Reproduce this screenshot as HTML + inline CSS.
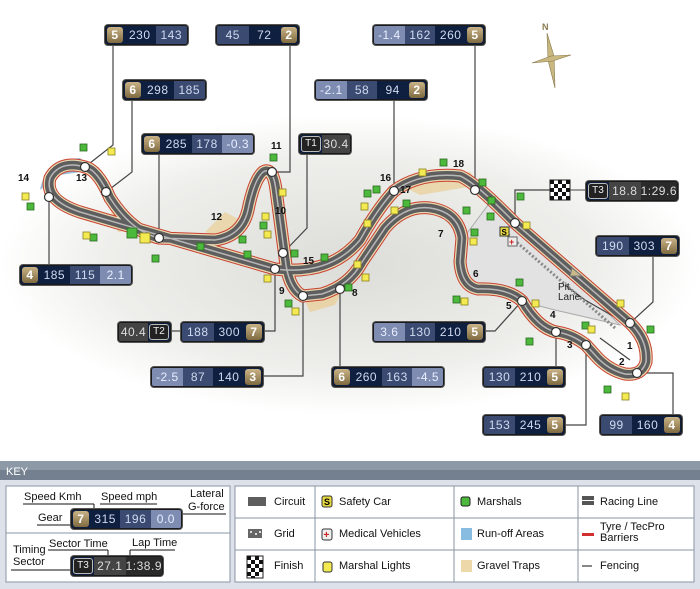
<!DOCTYPE html>
<html><head><meta charset="utf-8"><style>
body{margin:0;width:700px;height:589px;overflow:hidden;background:#fff;position:relative;font-family:"Liberation Sans",sans-serif}
.b{position:absolute;height:18px;display:flex;border:1px solid #1a1a1a;border-radius:3px;background:#0f1f40;font:12px "Liberation Sans",sans-serif;letter-spacing:0.5px;color:#d0daf0;overflow:hidden;box-shadow:0 0 0 1px #555}
.s{flex:1;text-align:center;line-height:18px;white-space:nowrap}
.d{background:#0f1f40}.m{background:#3a4a70}.l{background:#7e8cb2;color:#e8eeff}
.k{background:#2a2a2a;color:#ddd}.k2{background:#444;color:#ddd}
.g{width:16px;flex:none;text-align:center;line-height:16px;margin:1px;background:linear-gradient(#c9b386,#806a40);border-radius:3px;color:#fff;font-weight:bold;font-size:12px}
.t{width:18px;flex:none;text-align:center;line-height:14px;margin:1px;border:1px solid #bbb;border-radius:3px;background:#222;color:#eee;font-size:10px;letter-spacing:0}
.kt{position:absolute;font-size:11px;color:#111}
</style></head><body>
<svg width="700" height="589" style="position:absolute;left:0;top:0">
<defs>
<radialGradient id="sh" cx="0.5" cy="0.5" r="0.5"><stop offset="0" stop-color="#dcdcd8"/><stop offset="0.7" stop-color="#eeeeeb"/><stop offset="1" stop-color="#fff"/></radialGradient>
<path id="tr" d="M515,223 L630,323 Q648,340 646,362 Q642,376 625,374 Q608,370 595,355 L586,345 Q572,334 556,332 Q538,328 522,301 Q508,288 478,289 Q462,286 460,262 L462,238 Q458,212 430,208 Q405,205 385,228 L362,262 Q350,285 322,294 L303,296 Q290,290 286,265 L276,190 Q273,166 263,172 Q254,180 248,210 Q242,236 215,240 L159,238 Q132,232 110,198 Q98,170 85,167 Q60,160 50,178 Q44,200 80,212 L275,269 Q330,276 360,240 Q378,208 394,191 Q420,172 460,176 Q475,182 515,223 Z"/>
</defs>
<ellipse cx="350" cy="265" rx="350" ry="150" fill="url(#sh)"/>
<polygon points="488,205 520,225 620,325 555,310 470,288 462,240" fill="#e2e2e2" stroke="#aaa" stroke-width="1"/>
<path d="M40,190 Q45,160 80,158 L95,170 L60,175 Z" fill="#9cc0dc"/>
<path d="M300,290 L345,286 L335,305 L310,312 Z" fill="#e8d4a8"/>
<path d="M400,185 L470,172 L480,185 L420,195 Z" fill="#ead7ae"/>
<path d="M105,195 L130,230 L118,232 Z" fill="#ead7ae"/>
<path d="M205,232 L225,212 L240,220 L225,238 Z" fill="#ead7ae"/>
<g stroke="#444" stroke-width="1.2" fill="none">
<polyline points="113,44 113,145 85,167"/>
<polyline points="290,44 290,172 272,172"/>
<polyline points="475,44 475,190"/>
<polyline points="132,99 132,172 106,192"/>
<polyline points="394,99 394,191"/>
<polyline points="159,153 159,238"/>
<polyline points="307,153 307,228 283,253"/>
<polyline points="550,190 515,190 515,223"/>
<polyline points="653,255 653,302 630,323"/>
<polyline points="49,197 49,265"/>
<polyline points="262,331 275,331 275,269"/>
<polyline points="170,331 181,331"/>
<polyline points="484,331 495,331 522,301"/>
<polyline points="262,376 303,376 303,296"/>
<polyline points="340,367 340,289"/>
<polyline points="556,367 556,332"/>
<polyline points="563,425 586,425 586,345"/>
<polyline points="673,415 673,373 637,373"/>
<polyline points="600,338 630,360" />
<polyline points="565,285 585,300 625,323"/>
</g>
<g fill="none">
<use href="#tr" stroke="#c84030" stroke-width="13"/>
<use href="#tr" stroke="#e8d8b0" stroke-width="11"/>
<use href="#tr" stroke="#5e5e5e" stroke-width="8.5"/>
<use href="#tr" stroke="#b8b8b8" stroke-width="1.5"/>
</g>
<path d="M505,232 L615,328" stroke="#888" stroke-width="3" stroke-dasharray="2,2"/>
<polygon points="572,268 582,276 570,276" fill="#c8b88a" stroke="#777"/>
<g fill="#fff" stroke="#333" stroke-width="1.2">
<circle cx="85" cy="167" r="4.5"/><circle cx="106" cy="192" r="4.5"/><circle cx="49" cy="197" r="4.5"/>
<circle cx="159" cy="238" r="4.5"/><circle cx="272" cy="172" r="4.5"/><circle cx="283" cy="253" r="4.5"/>
<circle cx="275" cy="269" r="4.5"/><circle cx="303" cy="296" r="4.5"/><circle cx="340" cy="289" r="4.5"/>
<circle cx="394" cy="191" r="4.5"/><circle cx="475" cy="190" r="4.5"/><circle cx="515" cy="223" r="4.5"/>
<circle cx="630" cy="323" r="4.5"/><circle cx="637" cy="373" r="4.5"/><circle cx="586" cy="345" r="4.5"/>
<circle cx="556" cy="332" r="4.5"/><circle cx="522" cy="301" r="4.5"/>
</g>
<g fill="#4cb83c" stroke="#2a6a20" stroke-width="0.8">
<rect x="80" y="144" width="7" height="7"/><rect x="27" y="203" width="7" height="7"/><rect x="90" y="234" width="7" height="7"/>
<rect x="127" y="228" width="10" height="10"/><rect x="152" y="255" width="7" height="7"/><rect x="197" y="243" width="7" height="7"/>
<rect x="239" y="236" width="7" height="7"/><rect x="244" y="251" width="7" height="7"/><rect x="270" y="154" width="7" height="7"/>
<rect x="260" y="222" width="7" height="7"/><rect x="291" y="250" width="7" height="7"/><rect x="285" y="300" width="7" height="7"/>
<rect x="321" y="254" width="7" height="7"/><rect x="345" y="284" width="7" height="7"/><rect x="373" y="186" width="7" height="7"/>
<rect x="403" y="200" width="7" height="7"/><rect x="440" y="159" width="7" height="7"/><rect x="479" y="179" width="7" height="7"/>
<rect x="487" y="213" width="7" height="7"/><rect x="364" y="190" width="7" height="7"/>
<rect x="471" y="229" width="7" height="7"/><rect x="488" y="197" width="7" height="7"/><rect x="517" y="193" width="7" height="7"/>
<rect x="453" y="296" width="7" height="7"/><rect x="516" y="279" width="7" height="7"/><rect x="526" y="338" width="7" height="7"/>
<rect x="582" y="322" width="7" height="7"/><rect x="647" y="326" width="7" height="7"/><rect x="604" y="386" width="7" height="7"/>
<rect x="463" y="207" width="7" height="7"/>
</g>
<g fill="#f2ea50" stroke="#8a8020" stroke-width="0.8">
<rect x="108" y="148" width="7" height="7"/><rect x="22" y="193" width="7" height="7"/><rect x="83" y="232" width="7" height="7"/>
<rect x="140" y="233" width="10" height="10"/><rect x="279" y="189" width="7" height="7"/><rect x="262" y="213" width="7" height="7"/>
<rect x="264" y="231" width="7" height="7"/><rect x="264" y="275" width="7" height="7"/><rect x="292" y="308" width="7" height="7"/>
<rect x="362" y="274" width="7" height="7"/><rect x="361" y="203" width="7" height="7"/><rect x="391" y="207" width="7" height="7"/>
<rect x="419" y="169" width="7" height="7"/><rect x="364" y="220" width="7" height="7"/><rect x="523" y="222" width="7" height="7"/>
<rect x="470" y="238" width="7" height="7"/><rect x="461" y="298" width="7" height="7"/><rect x="532" y="300" width="7" height="7"/>
<rect x="588" y="326" width="7" height="7"/><rect x="617" y="300" width="7" height="7"/><rect x="622" y="393" width="7" height="7"/>
<rect x="354" y="261" width="7" height="7"/>
</g>
<rect x="500" y="227" width="9" height="9" fill="#e8d840" stroke="#333"/><text x="501.5" y="235" font-size="8" font-weight="bold" font-family="Liberation Sans">S</text>
<rect x="508" y="237" width="9" height="9" fill="#eee" stroke="#666"/><text x="509" y="245" font-size="9" font-weight="bold" fill="#d02020" font-family="Liberation Sans">+</text>
<g font-family="Liberation Sans" font-size="10" font-weight="bold" fill="#111">
<text x="627" y="349">1</text><text x="619" y="365">2</text><text x="567" y="348">3</text><text x="550" y="318">4</text>
<text x="506" y="309">5</text><text x="473" y="277">6</text><text x="438" y="237">7</text><text x="352" y="296">8</text>
<text x="279" y="294">9</text><text x="275" y="214">10</text><text x="271" y="149">11</text><text x="211" y="220">12</text>
<text x="76" y="181">13</text><text x="18" y="181">14</text><text x="303" y="264">15</text><text x="380" y="181">16</text>
<text x="400" y="193">17</text><text x="453" y="167">18</text>
</g>
<text x="558" y="290" font-family="Liberation Sans" font-size="10" fill="#222">Pit</text>
<text x="558" y="300" font-family="Liberation Sans" font-size="10" fill="#222">Lane</text>
<g>
<rect x="550" y="180" width="20" height="20" fill="#fff" stroke="#222"/>
<g fill="#111"><rect x="550" y="180" width="4" height="4"/><rect x="558" y="180" width="4" height="4"/><rect x="566" y="180" width="4" height="4"/><rect x="554" y="184" width="4" height="4"/><rect x="562" y="184" width="4" height="4"/><rect x="550" y="188" width="4" height="4"/><rect x="558" y="188" width="4" height="4"/><rect x="566" y="188" width="4" height="4"/><rect x="554" y="192" width="4" height="4"/><rect x="562" y="192" width="4" height="4"/><rect x="550" y="196" width="4" height="4"/><rect x="558" y="196" width="4" height="4"/><rect x="566" y="196" width="4" height="4"/></g>
</g>
<line x1="570" y1="190" x2="586" y2="190" stroke="#444"/>
<text x="542" y="30" font-family="Liberation Sans" font-size="9" font-weight="bold" fill="#8a7a50">N</text>
<polygon points="547,33 554,56 555,88 548,60" fill="#c8b880" stroke="#8a7a50" stroke-width="0.6"/>
<polygon points="532,63 551,56 571,55 553,61" fill="#c8b880" stroke="#8a7a50" stroke-width="0.6"/>
<rect x="0" y="461" width="700" height="128" fill="#dde2ea"/>
<rect x="0" y="461" width="700" height="19" fill="#74808f"/>
<rect x="0" y="461" width="700" height="9" fill="#8e99a8"/>
<text x="6" y="475" font-size="11" fill="#fff" font-family="Liberation Sans">KEY</text>
<rect x="6" y="486" width="224" height="96" fill="#fff" stroke="#8a94a4"/>
<line x1="6" y1="533" x2="230" y2="533" stroke="#8a94a4"/>
<rect x="235" y="486" width="459" height="96" fill="#fff" stroke="#8a94a4"/>
<g stroke="#8a94a4"><line x1="315" y1="486" x2="315" y2="582"/><line x1="454" y1="486" x2="454" y2="582"/><line x1="578" y1="486" x2="578" y2="582"/><line x1="235" y1="518" x2="694" y2="518"/><line x1="235" y1="550" x2="694" y2="550"/></g>
<g stroke="#111"><line x1="23" y1="504" x2="94" y2="504"/><line x1="94" y1="504" x2="94" y2="510"/><line x1="100" y1="504" x2="157" y2="504"/><line x1="37" y1="525" x2="71" y2="525"/><line x1="181" y1="514" x2="226" y2="514"/>
<line x1="48" y1="550" x2="108" y2="550"/><line x1="108" y1="550" x2="108" y2="557"/><line x1="130" y1="550" x2="175" y2="550"/><line x1="130" y1="550" x2="130" y2="557"/><line x1="11" y1="570" x2="71" y2="570"/></g>
<rect x="248" y="497" width="18" height="9" fill="#5e5e5e"/>
<rect x="248" y="529" width="14" height="9" fill="#666"/><g fill="#ddd"><rect x="250" y="531" width="2" height="2"/><rect x="255" y="533" width="2" height="2"/><rect x="259" y="531" width="2" height="2"/></g>
<rect x="247" y="556" width="16" height="22" fill="#fff" stroke="#222"/>
<g fill="#111"><rect x="247" y="556" width="4" height="4"/><rect x="255" y="556" width="4" height="4"/><rect x="251" y="560" width="4" height="4"/><rect x="259" y="560" width="4" height="4"/><rect x="247" y="564" width="4" height="4"/><rect x="255" y="564" width="4" height="4"/><rect x="251" y="568" width="4" height="4"/><rect x="259" y="568" width="4" height="4"/><rect x="247" y="572" width="4" height="4"/><rect x="255" y="572" width="4" height="4"/><rect x="251" y="576" width="4" height="2"/></g>
<rect x="322" y="496" width="10" height="11" rx="2" fill="#e8d840" stroke="#333"/><text x="324" y="505" font-size="9" font-weight="bold" font-family="Liberation Sans">S</text>
<rect x="322" y="529" width="10" height="11" rx="2" fill="#eee" stroke="#333"/><text x="323.5" y="538" font-size="10" font-weight="bold" fill="#d02020" font-family="Liberation Sans">+</text>
<rect x="323" y="562" width="9" height="10" rx="2" fill="#f2ea50" stroke="#333"/>
<rect x="461" y="497" width="9" height="9" rx="2" fill="#4cb83c" stroke="#222"/>
<rect x="461" y="528" width="11" height="12" fill="#88bce0"/>
<rect x="461" y="560" width="11" height="12" fill="#ecd8a8"/>
<rect x="582" y="496" width="12" height="4" fill="#555"/><rect x="582" y="501" width="12" height="4" fill="#555"/>
<rect x="582" y="533" width="12" height="3" fill="#d03030"/>
<line x1="582" y1="566" x2="592" y2="566" stroke="#111"/>
</svg>
<div class="kt" style="left:24px;top:491px">Speed Kmh</div>
<div class="kt" style="left:101px;top:491px">Speed mph</div>
<div class="kt" style="left:190px;top:488px">Lateral</div>
<div class="kt" style="left:188px;top:501px">G-force</div>
<div class="kt" style="left:38px;top:512px">Gear</div>
<div class="kt" style="left:49px;top:538px">Sector Time</div>
<div class="kt" style="left:132px;top:537px">Lap Time</div>
<div class="kt" style="left:13px;top:544px">Timing</div>
<div class="kt" style="left:13px;top:556px">Sector</div>
<div class="kt" style="left:274px;top:496px">Circuit</div>
<div class="kt" style="left:274px;top:528px">Grid</div>
<div class="kt" style="left:274px;top:560px">Finish</div>
<div class="kt" style="left:339px;top:496px">Safety Car</div>
<div class="kt" style="left:339px;top:528px">Medical Vehicles</div>
<div class="kt" style="left:339px;top:560px">Marshal Lights</div>
<div class="kt" style="left:477px;top:496px">Marshals</div>
<div class="kt" style="left:477px;top:528px">Run-off Areas</div>
<div class="kt" style="left:477px;top:560px">Gravel Traps</div>
<div class="kt" style="left:600px;top:496px">Racing Line</div>
<div class="kt" style="left:600px;top:522px;line-height:11px">Tyre / TecPro<br>Barriers</div>
<div class="kt" style="left:600px;top:560px">Fencing</div>
<div class="b" style="left:71px;top:509px;width:109px"><div class="g">7</div><div class="s d">315</div><div class="s m">196</div><div class="s l">0.0</div></div>
<div class="b" style="left:71px;top:556px;width:90px"><div class="t">T3</div><div class="s k2">27.1</div><div class="s k">1:38.9</div></div>
<div class="b" style="left:105px;top:25px;width:81px"><div class="g">5</div><div class="s d">230</div><div class="s m">143</div></div>
<div class="b" style="left:216px;top:25px;width:81px"><div class="s m">45</div><div class="s d">72</div><div class="g">2</div></div>
<div class="b" style="left:373px;top:25px;width:110px"><div class="s l">-1.4</div><div class="s m">162</div><div class="s d">260</div><div class="g">5</div></div>
<div class="b" style="left:123px;top:80px;width:81px"><div class="g">6</div><div class="s d">298</div><div class="s m">185</div></div>
<div class="b" style="left:315px;top:80px;width:110px"><div class="s l">-2.1</div><div class="s m">58</div><div class="s d">94</div><div class="g">2</div></div>
<div class="b" style="left:142px;top:134px;width:110px"><div class="g">6</div><div class="s d">285</div><div class="s m">178</div><div class="s l">-0.3</div></div>
<div class="b" style="left:299px;top:134px;width:50px"><div class="t">T1</div><div class="s k2">30.4</div></div>
<div class="b" style="left:586px;top:181px;width:90px"><div class="t">T3</div><div class="s k2">18.8</div><div class="s k">1:29.6</div></div>
<div class="b" style="left:596px;top:236px;width:81px"><div class="s m">190</div><div class="s d">303</div><div class="g">7</div></div>
<div class="b" style="left:20px;top:265px;width:110px"><div class="g">4</div><div class="s d">185</div><div class="s m">115</div><div class="s l">2.1</div></div>
<div class="b" style="left:118px;top:322px;width:51px"><div class="s k2">40.4</div><div class="t">T2</div></div>
<div class="b" style="left:181px;top:322px;width:81px"><div class="s m">188</div><div class="s d">300</div><div class="g">7</div></div>
<div class="b" style="left:373px;top:322px;width:110px"><div class="s l">3.6</div><div class="s m">130</div><div class="s d">210</div><div class="g">5</div></div>
<div class="b" style="left:151px;top:367px;width:110px"><div class="s l">-2.5</div><div class="s m">87</div><div class="s d">140</div><div class="g">3</div></div>
<div class="b" style="left:332px;top:367px;width:110px"><div class="g">6</div><div class="s d">260</div><div class="s m">163</div><div class="s l">-4.5</div></div>
<div class="b" style="left:483px;top:367px;width:80px"><div class="s m">130</div><div class="s d">210</div><div class="g">5</div></div>
<div class="b" style="left:483px;top:415px;width:80px"><div class="s m">153</div><div class="s d">245</div><div class="g">5</div></div>
<div class="b" style="left:600px;top:415px;width:80px"><div class="s m">99</div><div class="s d">160</div><div class="g">4</div></div>
</body></html>
